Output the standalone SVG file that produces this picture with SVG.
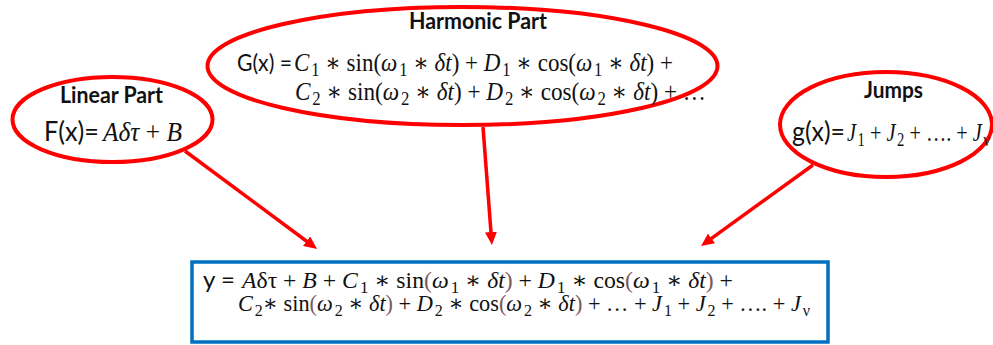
<svg xmlns="http://www.w3.org/2000/svg" width="993" height="345" viewBox="0 0 993 345">
<style>
.ell{fill:none;stroke:#ff0000;stroke-width:4}
.con{stroke:#ff0000;stroke-width:3.5;fill:none}
.box{fill:#ffffff;stroke:#0070c0;stroke-width:3.5}
.b{font-family:Lato,"Liberation Sans",sans-serif;font-weight:bold;font-size:22px;fill:#111}
.s{font-family:Lato,"Liberation Sans",sans-serif;fill:#111}
.m{font-family:"Liberation Serif","DejaVu Serif",serif;fill:#111}
.i{font-style:italic}
.sub{font-size:72%;baseline-shift:-5px;font-style:normal}
.p{fill:#7d5858}
</style>
<defs>
<marker id="ah" markerUnits="userSpaceOnUse" viewBox="0 0 13 12" markerWidth="13" markerHeight="12" refX="3" refY="6" orient="auto">
<path d="M0,0 L13,6 L0,12 z" fill="#ff0000"/>
</marker>
</defs>
<rect width="993" height="345" fill="#ffffff"/>
<g id="connectors">
<line class="con" x1="185" y1="151" x2="309" y2="243" marker-end="url(#ah)"/>
<line class="con" x1="483" y1="127" x2="491.2" y2="235" marker-end="url(#ah)"/>
<line class="con" x1="813" y1="165" x2="709.1" y2="240.1" marker-end="url(#ah)"/>
</g>
<g id="linear">
<ellipse class="ell" cx="112.5" cy="119.5" rx="100" ry="42.5"/>
<text class="b" x="60" y="103" textLength="103" lengthAdjust="spacingAndGlyphs">Linear Part</text>
<text class="s" x="44" y="141" font-size="26" textLength="55" lengthAdjust="spacingAndGlyphs">F(x)=</text>
<text class="m" x="103" y="141" font-size="27" textLength="79" lengthAdjust="spacingAndGlyphs"><tspan class="i">Aδτ</tspan> + <tspan class="i">B</tspan></text>
</g>
<g id="harmonic">
<ellipse class="ell" cx="462.5" cy="66" rx="255" ry="59"/>
<text class="b" x="409" y="29" textLength="138" lengthAdjust="spacingAndGlyphs">Harmonic Part</text>
<text class="s" x="237" y="71" font-size="24" textLength="55" lengthAdjust="spacingAndGlyphs">G(x) =</text>
<text class="m" x="294" y="71" font-size="25" textLength="379" lengthAdjust="spacingAndGlyphs"><tspan class="i">C</tspan><tspan class="sub" dx="2">1</tspan> ∗ sin(<tspan class="i">ω</tspan><tspan class="sub" dx="2">1</tspan> ∗ <tspan class="i">δt</tspan>) + <tspan class="i">D</tspan><tspan class="sub" dx="2">1</tspan> ∗ cos(<tspan class="i">ω</tspan><tspan class="sub" dx="2">1</tspan> ∗ <tspan class="i">δt</tspan>) +</text>
<text class="m" x="295" y="100" font-size="25" textLength="411" lengthAdjust="spacingAndGlyphs"><tspan class="i">C</tspan><tspan class="sub" dx="2">2</tspan> ∗ sin(<tspan class="i">ω</tspan><tspan class="sub" dx="2">2</tspan> ∗ <tspan class="i">δt</tspan>) + <tspan class="i">D</tspan><tspan class="sub" dx="2">2</tspan> ∗ cos(<tspan class="i">ω</tspan><tspan class="sub" dx="2">2</tspan> ∗ <tspan class="i">δt</tspan>) +  …</text>
</g>
<g id="jumps">
<ellipse class="ell" cx="886" cy="124.5" rx="106" ry="52.5"/>
<text class="b" x="864" y="98" textLength="59" lengthAdjust="spacingAndGlyphs">Jumps</text>
<text class="s" x="792" y="141" font-size="26" textLength="53" lengthAdjust="spacingAndGlyphs">g(x)=</text>
<text class="m" x="847" y="141" font-size="26" textLength="143" lengthAdjust="spacingAndGlyphs"><tspan class="i">J</tspan><tspan class="sub" dx="2">1</tspan> + <tspan class="i">J</tspan><tspan class="sub" dx="2">2</tspan> + …. + <tspan class="i">J</tspan><tspan class="sub" dx="2">ν</tspan></text>
</g>
<g id="result">
<rect class="box" x="192" y="262" width="636" height="80"/>
<text class="s" x="203" y="288" font-size="23" textLength="32" lengthAdjust="spacingAndGlyphs">y =</text>
<text class="m" x="242" y="288" font-size="23" textLength="491" lengthAdjust="spacingAndGlyphs"><tspan class="i">A</tspan>δτ + <tspan class="i">B</tspan> + <tspan class="i">C</tspan><tspan class="sub" dx="2">1</tspan> ∗ sin<tspan class="p">(</tspan><tspan class="i">ω</tspan><tspan class="sub" dx="2">1</tspan> ∗ <tspan class="i">δt</tspan><tspan class="p">)</tspan> + <tspan class="i">D</tspan><tspan class="sub" dx="2">1</tspan> ∗ cos<tspan class="p">(</tspan><tspan class="i">ω</tspan><tspan class="sub" dx="2">1</tspan> ∗ <tspan class="i">δt</tspan><tspan class="p">)</tspan> +</text>
<text class="m" x="238" y="311" font-size="23" textLength="572" lengthAdjust="spacingAndGlyphs"><tspan class="i">C</tspan><tspan class="sub" dx="2">2</tspan>∗ sin<tspan class="p">(</tspan><tspan class="i">ω</tspan><tspan class="sub" dx="2">2</tspan> ∗ <tspan class="i">δt</tspan><tspan class="p">)</tspan> + <tspan class="i">D</tspan><tspan class="sub" dx="2">2</tspan> ∗ cos<tspan class="p">(</tspan><tspan class="i">ω</tspan><tspan class="sub" dx="2">2</tspan> ∗ <tspan class="i">δt</tspan><tspan class="p">)</tspan> + … + <tspan class="i">J</tspan><tspan class="sub" dx="2">1</tspan> + <tspan class="i">J</tspan><tspan class="sub" dx="2">2</tspan> + …. + <tspan class="i">J</tspan><tspan class="sub" dx="2">ν</tspan></text>
</g>
</svg>
